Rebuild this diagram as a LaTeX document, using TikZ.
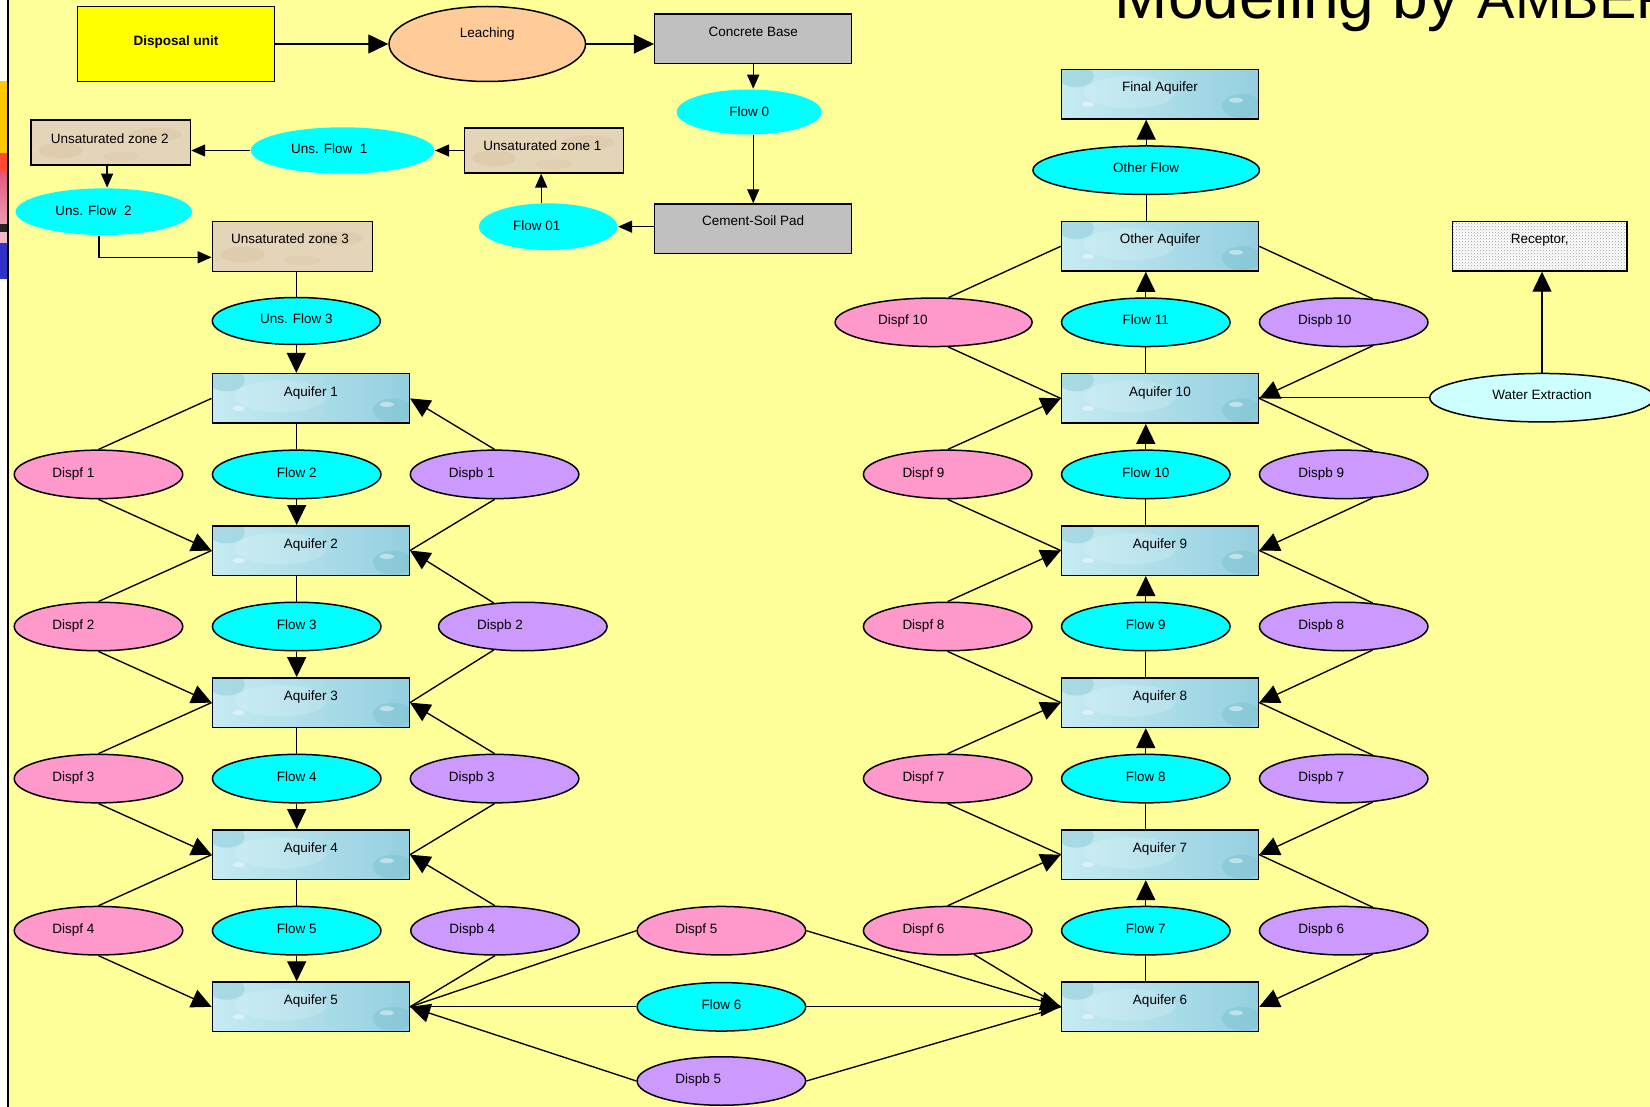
\documentclass[tikz,border=0pt]{standalone}
\usepackage{fontspec}
\setmainfont{Liberation Sans}
\usetikzlibrary{shapes.geometric,arrows.meta,calc,patterns}

\definecolor{bgyellow}{RGB}{255,255,153}
\definecolor{dispyellow}{RGB}{255,255,0}
\definecolor{leachpeach}{RGB}{255,204,153}
\definecolor{padgray}{RGB}{192,192,192}
\definecolor{flowcyan}{RGB}{0,255,255}
\definecolor{dispfpink}{RGB}{255,153,204}
\definecolor{dispbviolet}{RGB}{204,153,255}
\definecolor{extractcyan}{RGB}{204,255,255}
\definecolor{sand}{RGB}{229,213,184}
\definecolor{sanddark}{RGB}{214,194,158}
\definecolor{aqlight}{RGB}{198,235,243}
\definecolor{aqdark}{RGB}{148,207,223}
\definecolor{stripgold}{RGB}{255,200,0}
\definecolor{stripred}{RGB}{255,75,50}
\definecolor{striprose}{RGB}{226,88,122}
\definecolor{striprosel}{RGB}{236,156,178}
\definecolor{stripdark}{RGB}{35,35,35}
\definecolor{strippink}{RGB}{240,186,200}
\definecolor{stripblue}{RGB}{50,50,200}

% text inside a node, moved right by #1 and raised by #2 from the node centre
\newcommand\placetext[3]{\makebox[0pt]{\hspace*{#1}\hspace*{#1}\raisebox{#2}[0pt][0pt]{#3}}}

\tikzset{
  nbase/.style={draw=black, line width=1.5pt, inner sep=0pt,
    font=\fontsize{13.5}{16}\selectfont},
  rectnode/.style={nbase, rectangle, minimum width=197pt, minimum height=49.5pt},
  aqbox/.style={rectnode, left color=aqlight, right color=aqdark,
    path picture={
      \fill[aqdark!80!teal, opacity=.35, shift={(path picture bounding box.center)}]
        (-84,-18) ellipse (18 and 11);
      \fill[white, opacity=.16, shift={(path picture bounding box.center)}]
        (-30,-2) ellipse (46 and 16);
      \fill[aqdark!80!teal, opacity=.4, shift={(path picture bounding box.center)}]
        (82,12) ellipse (20 and 12);
      \fill[white, opacity=.45, shift={(path picture bounding box.center)}]
        (-72,10) ellipse (6 and 2.5);
      \fill[white, opacity=.45, shift={(path picture bounding box.center)}]
        (76,6) ellipse (7 and 2.5);
    }},
  sandbox/.style={nbase, rectangle, fill=sand, minimum width=159pt, minimum height=45pt,
    path picture={
      \fill[sanddark, opacity=.45, shift={(path picture bounding box.center)}]
        (-50,8) ellipse (22 and 8);
      \fill[sanddark, opacity=.35, shift={(path picture bounding box.center)}]
        (45,-8) ellipse (26 and 7);
      \fill[sanddark, opacity=.3, shift={(path picture bounding box.center)}]
        (10,14) ellipse (18 and 5);
    }},
  graybox/.style={rectnode, fill=padgray},
  dispbox/.style={rectnode, fill=dispyellow, minimum height=75pt},
  recbox/.style={rectnode, minimum width=174.5pt, preaction={fill=white},
    pattern=crosshatch dots, pattern color=black!40},
  ellnode/.style={nbase, ellipse, minimum width=168.5pt, minimum height=48.5pt},
  flowell/.style={ellnode, fill=flowcyan},
  dispfell/.style={ellnode, fill=dispfpink},
  dispbell/.style={ellnode, fill=dispbviolet},
  bareflow/.style={ellnode, fill=flowcyan, draw=none},
  conn/.style={draw=black, line width=1.35pt},
  bigarrow/.style={-{Triangle[length=20pt,width=19pt]}},
  smallarrow/.style={-{Triangle[length=14pt,width=12pt]}},
}

\begin{document}
\begin{tikzpicture}[x=1pt,y=-1pt]
\useasboundingbox (0,0) rectangle (1650,1107);
\clip (0,0) rectangle (1650,1107);

% page background and left edge strip
\fill[bgyellow] (0,0) rectangle (1650,1107);
\fill[white] (0,0) rectangle (7.3,1107);
\fill[stripgold] (0,81) rectangle (7.3,153.3);
\fill[stripred] (0,153.3) rectangle (7.3,171.7);
\shade[top color=striprose, bottom color=striprosel] (0,171.7) rectangle (7.3,224);
\fill[stripdark] (0,224) rectangle (7.3,232.3);
\fill[strippink] (0,232.3) rectangle (7.3,243.3);
\fill[stripblue] (0,243.3) rectangle (7.3,279.3);
\draw[line width=1.5pt] (8,0) -- (8,1107);

% heading (runs past the top and right edges of the slide)
\node[anchor=base west, inner sep=0pt, font=\fontsize{64}{70}\selectfont] (title)
  at (1114.6,19) {Modeling by {\fontsize{56}{62}\selectfont AMBER}};

% ---------- source term and unsaturated zone ----------
\node[dispbox] (disp) at (176,44) {\placetext{0pt}{-1.1pt}{\bfseries Disposal unit}};
\node[ellnode, fill=leachpeach, minimum width=196.5pt, minimum height=75pt] (leach)
  at (487.3,44) {\placetext{0pt}{6.5pt}{Leaching}};
\node[graybox] (cbase) at (753.2,38.8) {\placetext{0pt}{2.4pt}{Concrete Base}};
\node[bareflow, minimum width=145pt, minimum height=45pt] (flow0)
  at (749.2,112) {\placetext{0pt}{-5pt}{Flow 0}};
\node[graybox] (pad) at (753.2,228.8) {\placetext{0pt}{3pt}{Cement-Soil Pad}};
\node[bareflow, minimum width=138.4pt, minimum height=46.7pt] (flow01)
  at (548.2,226.7) {\placetext{-11.4pt}{-3.8pt}{Flow 01}};
\node[sandbox] (uz1) at (544.2,150.3) {\placetext{-1.8pt}{0.2pt}{Unsaturated zone 1}};
\node[bareflow, minimum width=183.5pt, minimum height=46.4pt] (uf1)
  at (342.6,150.5) {\placetext{-13.4pt}{-3.3pt}{Uns. Flow\ \ 1}};
\node[sandbox, minimum width=159.5pt] (uz2) at (110.7,142.5)
  {\placetext{-0.9pt}{-1pt}{Unsaturated zone 2}};
\node[bareflow, minimum width=176.4pt, minimum height=46.7pt] (uf2)
  at (103.8,211.7) {\placetext{-10.3pt}{-3.4pt}{Uns. Flow\ \ 2}};
\node[sandbox, minimum width=160pt, minimum height=50pt] (uz3) at (292.4,246.5)
  {\placetext{-2.4pt}{3pt}{Unsaturated zone 3}};
\node[flowell, minimum width=168pt, minimum height=47pt] (uf3)
  at (296.3,321) {\placetext{0pt}{-2.6pt}{Uns. Flow 3}};

\coordinate (uz1foot) at ($(uz1.south)+(-3,0)$);
\coordinate (uz2foot) at ($(uz2.south)+(-3.6,0)$);
\coordinate (uf2foot) at ($(uf2.south)+(-4.7,0)$);
\coordinate (uz3in) at ($(uz3.west)+(0,10.8)$);

\draw[conn,bigarrow] (disp.east) -- (leach.west);
\draw[conn,bigarrow] (leach.east) -- (leach.east -| cbase.west);
\draw[conn,smallarrow] (cbase.south) -- (cbase.south |- flow0.north);
\draw[conn,smallarrow] (cbase.south |- flow0.south) -- (pad.north);
\draw[conn,smallarrow] (pad.west |- flow01.east) -- (flow01.east);
\draw[conn,smallarrow] (uz1foot |- flow01.north) -- (uz1foot);
\draw[conn,smallarrow] (uz1.west |- uf1.east) -- (uf1.east);
\draw[conn,smallarrow] (uf1.west) -- (uf1.west -| uz2.east);
\draw[conn,smallarrow] (uz2foot) -- (uz2foot |- uf2.north);
\draw[conn,smallarrow] (uf2foot) |- (uz3in);
\draw[conn] (uz3.south -| uf3.north) -- (uf3.north);

% ---------- aquifer chain, left column ----------
\foreach \k/\y in {1/398.4,2/550.5,3/702.6,4/854.7,5/1006.8}
  \node[aqbox] (aq\k) at (310.8,\y) {\placetext{0pt}{2.2pt}{Aquifer \k}};
\foreach \k/\y in {2/474.4,3/626.5,4/778.6,5/930.7}
  \node[flowell] (fl\k) at (296.7,\y) {\placetext{0pt}{-2.6pt}{Flow \k}};
\foreach \k/\y in {1/474.4,2/626.5,3/778.6,4/930.7}
  \node[dispfell] (df\k) at (98.5,\y) {\placetext{-25pt}{-2.6pt}{Dispf \k}};
\foreach \k/\x/\y in {1/494.6/474.4,2/522.8/626.5,3/494.6/778.6,4/495/930.7}
  \node[dispbell] (db\k) at (\x,\y) {\placetext{-22.8pt}{-2.6pt}{Dispb \k}};

\draw[conn,bigarrow] (uf3.south) -- (uf3.south |- aq1.north);
\foreach \a/\b in {1/2,2/3,3/4,4/5}{
  \draw[conn] (aq\a.west) -- (df\a.north);
  \draw[conn,bigarrow] (df\a.south) -- (aq\b.west);
  \draw[conn] (fl\b.north) -- (fl\b.north |- aq\a.south);
  \draw[conn,bigarrow] (fl\b.south) -- (fl\b.south |- aq\b.north);
}
\foreach \a/\b in {1/2,3/4,4/5}{
  \draw[conn,bigarrow] (db\a.north) -- (aq\a.east);
  \draw[conn] (db\a.south) -- (aq\b.east);
}
\draw[conn,bigarrow] (db2.141) -- (aq2.east);
\draw[conn] (db2.-141) -- (aq3.east);

% ---------- transfer between the two columns ----------
\node[dispfell] (df5) at (721.4,930.7) {\placetext{-25pt}{-2.6pt}{Dispf 5}};
\node[flowell] (fl6) at (721.4,1006.8) {\placetext{0pt}{-2.6pt}{Flow 6}};
\node[dispbell] (db5) at (721.4,1081) {\placetext{-23.2pt}{-2.6pt}{Dispb 5}};

% ---------- aquifer chain, right column ----------
\foreach \k/\y in {6/1006.8,7/854.7,8/702.6,9/550.5,10/398.4}
  \node[aqbox] (aq\k) at (1160,\y) {\placetext{0pt}{2.2pt}{Aquifer \k}};
\node[aqbox] (oaq) at (1160,246.3) {\placetext{0pt}{3pt}{Other Aquifer}};
\node[aqbox] (faq) at (1160,94.2) {\placetext{0pt}{3pt}{Final Aquifer}};
\foreach \k/\y in {7/930.7,8/778.6,9/626.5,10/474.4,11/322.3}
  \node[flowell] (fl\k) at (1145.8,\y) {\placetext{0pt}{-2.6pt}{Flow \k}};
\node[flowell, minimum width=226.5pt] (ofl) at (1146.2,170.2)
  {\placetext{0pt}{-2.6pt}{Other Flow}};
\foreach \k/\y in {6/930.7,7/778.6,8/626.5,9/474.4}
  \node[dispfell] (df\k) at (947.7,\y) {\placetext{-24.2pt}{-2.6pt}{Dispf \k}};
\node[dispfell, minimum width=197pt] (df10) at (933.6,322.3)
  {\placetext{-30.8pt}{-2.6pt}{Dispf 10}};
\foreach \k/\y in {6/930.7,7/778.6,8/626.5,9/474.4}
  \node[dispbell] (db\k) at (1343.7,\y) {\placetext{-22.5pt}{-2.6pt}{Dispb \k}};
\node[dispbell] (db10) at (1343.7,322.3) {\placetext{-19pt}{-2.6pt}{Dispb 10}};

\node[ellnode, fill=extractcyan, minimum width=224.5pt] (we) at (1542,397.7)
  {\placetext{0pt}{-2.1pt}{Water Extraction}};
\node[recbox] (rec) at (1539.7,246.2) {\placetext{0pt}{3.1pt}{Receptor,}};

% connectors between the columns
\draw[conn] (aq5.east) -- (df5.west);
\draw[conn,bigarrow] (df5.east) -- (aq6.west);
\draw[conn] (aq5.east) -- (fl6.west);
\draw[conn,bigarrow] (fl6.east) -- (aq6.west);
\draw[conn,bigarrow] (db5.west) -- (aq5.east);
\draw[conn] (db5.east) -- (aq6.west);

% connectors of the right column
\foreach \a/\b in {6/7,7/8,8/9,9/10}{
  \draw[conn,bigarrow] (df\a.north) -- (aq\b.west);
  \draw[conn] (db\a.39) -- (aq\b.east);
  \draw[conn,bigarrow] (db\a.-39) -- (aq\a.east);
  \draw[conn] (fl\b.south) -- (fl\b.south |- aq\a.north);
  \draw[conn,bigarrow] (fl\b.north) -- (fl\b.north |- aq\b.south);
}
\foreach \a in {7,8,9}
  \draw[conn] (df\a.south) -- (aq\a.west);
\draw[conn] (df6.-42) -- (aq6.west);

\draw[conn] (fl11.south) -- (fl11.south |- aq10.north);
\draw[conn,bigarrow] (fl11.north) -- (fl11.north |- oaq.south);
\draw[conn] (ofl.south) -- (ofl.south |- oaq.north);
\draw[conn,bigarrow] (ofl.north) -- (ofl.north |- faq.south);
\draw[conn] (df10.59) -- (oaq.west);
\draw[conn] (df10.-59) -- (aq10.west);
\draw[conn] (db10.39) -- (oaq.east);
\draw[conn,bigarrow] (db10.-39) -- (aq10.east);
\draw[conn] (we.west) -- (we.west -| aq10.east);
\draw[conn,bigarrow] (we.north) -- (we.north |- rec.south);
\end{tikzpicture}
\end{document}
